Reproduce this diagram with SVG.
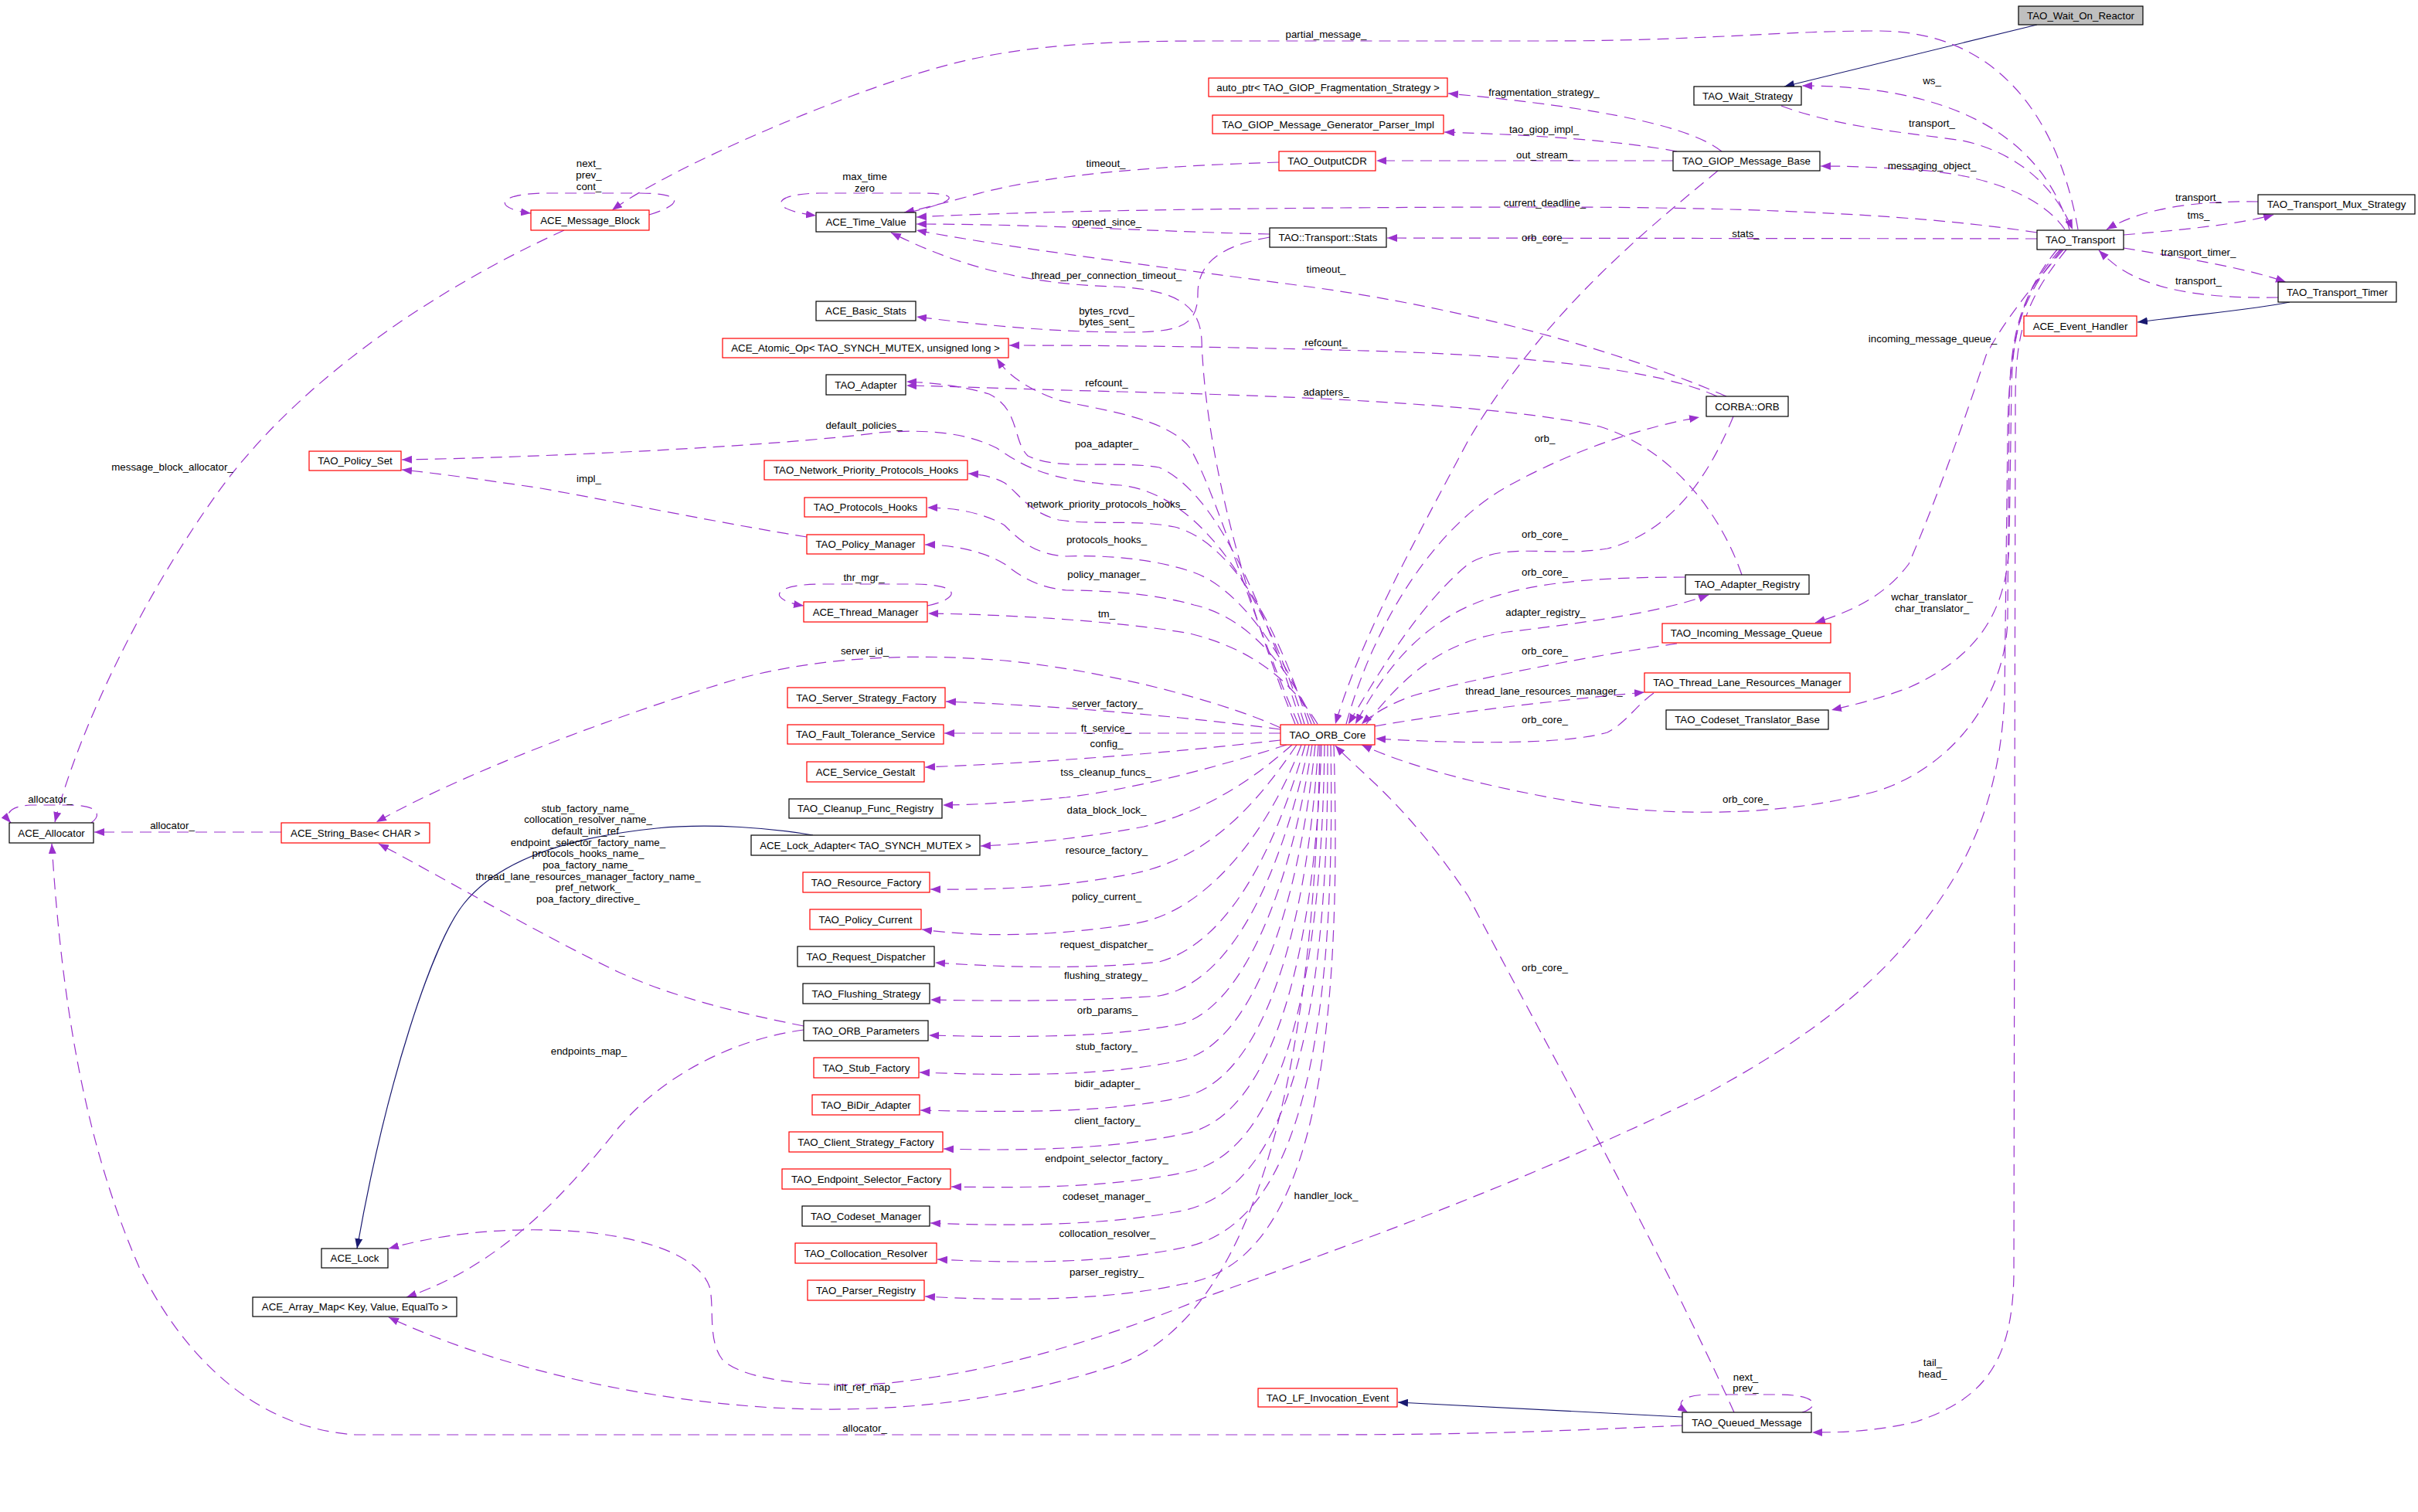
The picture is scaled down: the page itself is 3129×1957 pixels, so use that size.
<svg xmlns="http://www.w3.org/2000/svg" width="3129" height="1957" viewBox="0 0 3129 1957">
<style>
.node rect{fill:#fff;stroke-width:1.2}
.node .r{stroke:#ff0000}
.node .k{stroke:#000}
.node .g{stroke:#000;fill:#bfbfbf}
text{font-family:"Liberation Sans",Arial,sans-serif;font-size:13.3px;fill:#000;text-anchor:middle}
.e{fill:none;stroke:#9a32cd;stroke-width:1.2;stroke-dasharray:15 9;marker-end:url(#a)}
.i{fill:none;stroke:#191970;stroke-width:1.2;marker-end:url(#b)}
</style>
<defs>
<marker id="a" markerUnits="userSpaceOnUse" markerWidth="14" markerHeight="10" refX="13" refY="5" orient="auto"><path d="M0,0 L13,5 L0,10 z" fill="#9a32cd" stroke="none"/></marker>
<marker id="b" markerUnits="userSpaceOnUse" markerWidth="14" markerHeight="10" refX="13" refY="5" orient="auto"><path d="M0,0 L13,5 L0,10 z" fill="#191970" stroke="none"/></marker>
</defs>
<rect x="0" y="0" width="3129" height="1957" fill="#fff"/>
<g id="connectors">
<path class="i" d="M2636,32 L2309,112"/>
<path class="i" d="M1052,1081 C1000,1072 920,1065 850,1072 C720,1085 640,1120 600,1170 C560,1220 500,1400 462,1616"/>
<path class="i" d="M2963,391 C2920,400 2860,405 2766,417"/>
<path class="i" d="M2177,1834 C2000,1826 1900,1820 1809,1815"/>
<path class="e" d="M2689,297 C2665,160 2590,40 2430,40 C2300,40 2200,53 2000,53 L1560,53 C1330,53 1250,70 1100,125 C980,170 850,230 792,272"/>
<path class="e" d="M2678,297 C2650,200 2560,111 2332,111"/>
<path class="e" d="M2305,137 C2380,165 2470,172 2540,182 C2620,200 2662,250 2682,297"/>
<path class="e" d="M2672,297 C2640,250 2560,225 2480,220 C2420,216 2390,215 2356,215"/>
<path class="e" d="M2228,196 C2190,165 2080,140 1874,121"/>
<path class="e" d="M2170,196 C2100,183 2000,175 1869,171"/>
<path class="e" d="M2165,208 L1781,208"/>
<path class="e" d="M1655,210 C1500,215 1350,225 1250,255 C1220,263 1195,270 1170,275"/>
<path class="e" d="M1175,275 C1235,262 1250,250 1190,250 L1060,250 C995,251 995,272 1056,279"/>
<path class="e" d="M840,278 C880,266 892,250 825,250 L700,250 C640,252 640,270 687,276"/>
<path class="e" d="M2636,301 C2500,280 2300,268 2000,268 C1700,268 1350,272 1186,281"/>
<path class="e" d="M1643,303 C1500,300 1350,290 1186,290"/>
<path class="e" d="M1676,937 C1620,800 1560,600 1555,440 C1553,400 1530,375 1443,371 C1330,368 1240,345 1153,301"/>
<path class="e" d="M2234,513 C2100,455 1900,400 1700,372 C1500,345 1300,320 1186,298"/>
<path class="e" d="M1643,307 C1580,318 1550,340 1550,380 C1550,420 1530,430 1460,430 C1350,430 1250,418 1186,410"/>
<path class="e" d="M2222,513 C2150,480 2000,462 1800,455 C1600,449 1450,447 1306,447"/>
<path class="e" d="M1680,937 C1620,800 1575,640 1540,580 C1510,540 1420,530 1370,518 C1320,500 1300,480 1290,464"/>
<path class="e" d="M2254,744 C2225,660 2160,580 2070,552 C1950,525 1700,513 1450,507 C1300,503 1230,500 1173,499"/>
<path class="e" d="M1684,937 C1640,800 1580,640 1500,605 C1440,595 1370,610 1330,590 C1310,570 1320,530 1280,510 C1240,498 1200,495 1173,494"/>
<path class="e" d="M1688,937 C1640,780 1560,640 1450,628 C1350,622 1320,600 1290,580 C1250,560 1200,555 1137,560 C1000,578 700,592 520,595"/>
<path class="e" d="M1044,695 C950,680 800,650 700,632 C620,620 560,612 520,608"/>
<path class="e" d="M1693,937 C1650,800 1590,700 1520,682 C1470,672 1420,680 1370,673 C1330,662 1320,640 1300,625 C1285,617 1270,614 1253,613"/>
<path class="e" d="M1697,937 C1660,840 1600,760 1545,741 C1500,725 1440,718 1380,720 C1340,718 1320,700 1300,680 C1270,662 1230,657 1200,657"/>
<path class="e" d="M1701,937 C1670,870 1620,800 1545,783 C1500,770 1440,764 1380,764 C1340,760 1320,745 1300,730 C1270,712 1230,705 1197,705"/>
<path class="e" d="M1705,937 C1670,880 1620,840 1540,820 C1450,804 1300,795 1201,794"/>
<path class="e" d="M1200,784 C1240,776 1248,757 1185,756 L1060,756 C995,757 995,777 1040,784"/>
<path class="e" d="M1657,942 C1600,915 1450,870 1300,855 C1180,845 1060,850 950,880 C800,925 600,1000 487,1064"/>
<path class="e" d="M1657,944 C1550,930 1400,915 1224,908"/>
<path class="e" d="M1657,949 L1222,949"/>
<path class="e" d="M1657,958 C1550,970 1400,985 1197,993"/>
<path class="e" d="M1665,964 C1600,985 1480,1020 1380,1032 C1320,1038 1260,1042 1220,1042"/>
<path class="e" d="M1672,964 C1620,1010 1560,1050 1480,1070 C1400,1085 1320,1093 1269,1095"/>
<path class="e" d="M1678,964 C1620,1050 1560,1110 1470,1130 C1380,1148 1300,1152 1204,1151"/>
<path class="e" d="M1684,964 C1640,1080 1560,1180 1470,1195 C1380,1210 1280,1215 1193,1203"/>
<path class="e" d="M1689,964 C1650,1100 1590,1220 1500,1245 C1400,1255 1300,1252 1210,1246"/>
<path class="e" d="M1694,964 C1660,1120 1600,1270 1500,1289 C1400,1296 1300,1296 1204,1294"/>
<path class="e" d="M1698,964 C1670,1150 1610,1300 1530,1325 C1440,1343 1320,1343 1202,1340"/>
<path class="e" d="M1702,964 C1680,1180 1620,1350 1530,1372 C1440,1392 1320,1393 1190,1388"/>
<path class="e" d="M1706,964 C1690,1220 1630,1400 1530,1420 C1440,1440 1320,1440 1191,1437"/>
<path class="e" d="M1710,964 C1700,1260 1640,1450 1530,1468 C1440,1487 1330,1490 1221,1487"/>
<path class="e" d="M1714,964 C1710,1300 1650,1500 1530,1518 C1440,1536 1340,1538 1231,1536"/>
<path class="e" d="M1718,964 C1720,1340 1660,1540 1530,1567 C1440,1585 1320,1588 1204,1583"/>
<path class="e" d="M1722,964 C1730,1380 1670,1590 1530,1615 C1440,1634 1330,1636 1213,1630"/>
<path class="e" d="M1726,964 C1740,1420 1680,1640 1530,1662 C1440,1682 1320,1685 1197,1678"/>
<path class="e" d="M1708,964 C1700,1400 1620,1700 1450,1765 C1300,1815 1150,1830 1000,1822 C800,1810 620,1760 503,1705"/>
<path class="e" d="M1040,1333 C950,1345 860,1390 800,1460 C720,1560 640,1640 526,1679"/>
<path class="e" d="M1040,1328 C950,1310 870,1290 800,1258 C700,1210 580,1140 490,1092"/>
<path class="e" d="M364,1077 L122,1077"/>
<path class="e" d="M118,1065 C132,1055 128,1042 90,1042 L40,1042 C10,1043 6,1056 14,1065"/>
<path class="e" d="M730,298 C550,380 380,500 280,640 C180,780 100,950 71,1064"/>
<path class="e" d="M2177,1845 C2000,1853 1900,1857 1700,1857 L460,1857 C350,1850 250,1780 180,1640 C110,1480 80,1300 67,1092"/>
<path class="e" d="M2223,221 C2140,290 2000,400 1900,570 C1820,720 1760,830 1728,937"/>
<path class="e" d="M1742,937 C1780,800 1860,680 1950,630 C2040,580 2130,552 2199,540"/>
<path class="e" d="M2243,539 C2210,620 2160,690 2080,710 C2010,722 1950,700 1900,730 C1840,780 1790,860 1745,937"/>
<path class="e" d="M2181,747 C2050,747 1950,755 1880,795 C1820,830 1785,880 1754,937"/>
<path class="e" d="M1768,937 C1820,870 1870,830 1950,818 C2060,805 2150,792 2211,770"/>
<path class="e" d="M2170,833 C2050,850 1900,880 1830,900 C1800,910 1775,925 1762,937"/>
<path class="e" d="M1779,940 C1880,922 2000,908 2128,896"/>
<path class="e" d="M2140,897 C2115,915 2105,935 2080,948 C2020,965 1880,962 1780,956"/>
<path class="e" d="M2666,323 C2615,380 2602,430 2600,520 L2598,800 C2596,900 2530,990 2432,1023 C2300,1060 2150,1055 2050,1040 C1930,1020 1830,995 1762,964"/>
<path class="e" d="M2244,1828 C2150,1620 2000,1350 1900,1160 C1820,1040 1760,1000 1728,965"/>
<path class="e" d="M2636,309 L1795,308"/>
<path class="e" d="M2670,323 C2630,370 2590,420 2570,460 C2530,580 2500,660 2470,730 C2440,770 2400,790 2349,806"/>
<path class="e" d="M2668,323 C2620,380 2605,420 2603,500 L2600,700 C2598,790 2560,850 2470,890 C2430,905 2400,912 2370,919"/>
<path class="e" d="M2662,323 C2615,380 2600,440 2598,560 L2594,900 C2590,1000 2565,1080 2520,1150 C2450,1260 2350,1340 2200,1420 C1950,1540 1750,1610 1565,1677 C1450,1725 1300,1775 1150,1790 C1050,1798 960,1785 935,1760 C915,1735 925,1690 918,1665 C905,1630 850,1605 760,1595 C650,1585 560,1600 503,1616"/>
<path class="e" d="M2674,323 C2620,390 2608,430 2608,520 L2606,1650 C2604,1760 2570,1810 2480,1840 C2430,1852 2390,1854 2345,1854"/>
<path class="e" d="M2922,261 C2860,260 2780,265 2726,297"/>
<path class="e" d="M2748,304 C2820,298 2900,290 2942,278"/>
<path class="e" d="M2748,321 C2820,333 2900,345 2958,365"/>
<path class="e" d="M2948,385 C2870,386 2790,380 2740,345 C2732,339 2724,332 2716,324"/>
<path class="e" d="M2332,1828 C2356,1820 2352,1805 2300,1805 L2210,1805 C2172,1806 2168,1818 2184,1828"/>
</g>
<g id="edge-labels">
<text x="1716" y="49">partial_message_</text>
<text x="1998" y="124">fragmentation_strategy_</text>
<text x="1998" y="172">tao_giop_impl_</text>
<text x="1999" y="205">out_stream_</text>
<text x="2500" y="109">ws_</text>
<text x="2500" y="164">transport_</text>
<text x="2500" y="219">messaging_object_</text>
<text x="762" y="216">next_</text>
<text x="762" y="231">prev_</text>
<text x="762" y="246">cont_</text>
<text x="1119" y="233">max_time</text>
<text x="1119" y="248">zero</text>
<text x="1431" y="216">timeout_</text>
<text x="1999" y="267">current_deadline_</text>
<text x="1432" y="292">opened_since_</text>
<text x="1999" y="312">orb_core_</text>
<text x="2259" y="307">stats_</text>
<text x="2845" y="260">transport_</text>
<text x="2845" y="283">tms_</text>
<text x="2845" y="331">transport_timer_</text>
<text x="2845" y="368">transport_</text>
<text x="1716" y="353">timeout_</text>
<text x="1432" y="361">thread_per_connection_timeout_</text>
<text x="1432" y="407">bytes_rcvd_</text>
<text x="1432" y="421">bytes_sent_</text>
<text x="2501" y="443">incoming_message_queue_</text>
<text x="1716" y="448">refcount_</text>
<text x="1432" y="500">refcount_</text>
<text x="1716" y="512">adapters_</text>
<text x="1118" y="555">default_policies_</text>
<text x="1999" y="572">orb_</text>
<text x="1432" y="579">poa_adapter_</text>
<text x="223" y="609">message_block_allocator_</text>
<text x="762" y="624">impl_</text>
<text x="1432" y="657">network_priority_protocols_hooks_</text>
<text x="1999" y="696">orb_core_</text>
<text x="1432" y="703">protocols_hooks_</text>
<text x="1999" y="745">orb_core_</text>
<text x="1432" y="748">policy_manager_</text>
<text x="1118" y="752">thr_mgr_</text>
<text x="2500" y="777">wchar_translator_</text>
<text x="2500" y="792">char_translator_</text>
<text x="2000" y="797">adapter_registry_</text>
<text x="1432" y="799">tm_</text>
<text x="1999" y="847">orb_core_</text>
<text x="1119" y="847">server_id_</text>
<text x="1998" y="899">thread_lane_resources_manager_</text>
<text x="1433" y="915">server_factory_</text>
<text x="1999" y="936">orb_core_</text>
<text x="1431" y="947">ft_service_</text>
<text x="1432" y="967">config_</text>
<text x="1431" y="1004">tss_cleanup_funcs_</text>
<text x="65" y="1039">allocator_</text>
<text x="2259" y="1039">orb_core_</text>
<text x="761" y="1051">stub_factory_name_</text>
<text x="761" y="1065">collocation_resolver_name_</text>
<text x="761" y="1080">default_init_ref_</text>
<text x="761" y="1095">endpoint_selector_factory_name_</text>
<text x="761" y="1109">protocols_hooks_name_</text>
<text x="761" y="1124">poa_factory_name_</text>
<text x="761" y="1139">thread_lane_resources_manager_factory_name_</text>
<text x="761" y="1153">pref_network_</text>
<text x="761" y="1168">poa_factory_directive_</text>
<text x="1432" y="1053">data_block_lock_</text>
<text x="223" y="1073">allocator_</text>
<text x="1432" y="1105">resource_factory_</text>
<text x="1432" y="1165">policy_current_</text>
<text x="1432" y="1227">request_dispatcher_</text>
<text x="1999" y="1257">orb_core_</text>
<text x="1431" y="1267">flushing_strategy_</text>
<text x="1433" y="1312">orb_params_</text>
<text x="1432" y="1359">stub_factory_</text>
<text x="762" y="1365">endpoints_map_</text>
<text x="1433" y="1407">bidir_adapter_</text>
<text x="1433" y="1455">client_factory_</text>
<text x="1432" y="1504">endpoint_selector_factory_</text>
<text x="1716" y="1552">handler_lock_</text>
<text x="1432" y="1553">codeset_manager_</text>
<text x="1433" y="1601">collocation_resolver_</text>
<text x="1432" y="1651">parser_registry_</text>
<text x="2501" y="1768">tail_</text>
<text x="2501" y="1783">head_</text>
<text x="2259" y="1787">next_</text>
<text x="2259" y="1801">prev_</text>
<text x="1119" y="1800">init_ref_map_</text>
<text x="1119" y="1853">allocator_</text>
</g>
<g id="TAO_Wait_On_Reactor" class="node"><rect class="g" x="2612" y="8" width="161" height="24"/><text x="2692.5" y="24.7">TAO_Wait_On_Reactor</text></g>
<g id="TAO_Wait_Strategy" class="node"><rect class="k" x="2192" y="112" width="139" height="24"/><text x="2261.5" y="128.7">TAO_Wait_Strategy</text></g>
<g id="TAO_Transport" class="node"><rect class="k" x="2636" y="298" width="112" height="25"/><text x="2692" y="315.2">TAO_Transport</text></g>
<g id="TAO_GIOP_Message_Base" class="node"><rect class="k" x="2165" y="196" width="190" height="25"/><text x="2260" y="213.2">TAO_GIOP_Message_Base</text></g>
<g id="auto_ptr_Fragmentation" class="node"><rect class="r" x="1564" y="101" width="309" height="24"/><text x="1718.5" y="117.7">auto_ptr&lt; TAO_GIOP_Fragmentation_Strategy &gt;</text></g>
<g id="TAO_GIOP_Message_Generator_Parser_Impl" class="node"><rect class="r" x="1569" y="149" width="299" height="24"/><text x="1718.5" y="165.7">TAO_GIOP_Message_Generator_Parser_Impl</text></g>
<g id="TAO_OutputCDR" class="node"><rect class="r" x="1655" y="196" width="125" height="25"/><text x="1717.5" y="213.2">TAO_OutputCDR</text></g>
<g id="ACE_Message_Block" class="node"><rect class="r" x="687" y="272" width="153" height="26"/><text x="763.5" y="289.7">ACE_Message_Block</text></g>
<g id="ACE_Time_Value" class="node"><rect class="k" x="1056" y="275" width="129" height="25"/><text x="1120.5" y="292.2">ACE_Time_Value</text></g>
<g id="TAO_Transport_Stats" class="node"><rect class="k" x="1643" y="295" width="151" height="25"/><text x="1718.5" y="312.2">TAO::Transport::Stats</text></g>
<g id="ACE_Basic_Stats" class="node"><rect class="k" x="1056" y="390" width="129" height="25"/><text x="1120.5" y="407.2">ACE_Basic_Stats</text></g>
<g id="ACE_Atomic_Op" class="node"><rect class="r" x="935" y="438" width="370" height="25"/><text x="1120" y="455.2">ACE_Atomic_Op&lt; TAO_SYNCH_MUTEX, unsigned long &gt;</text></g>
<g id="TAO_Adapter" class="node"><rect class="k" x="1069" y="485" width="103" height="26"/><text x="1120.5" y="502.7">TAO_Adapter</text></g>
<g id="TAO_Policy_Set" class="node"><rect class="r" x="400" y="584" width="119" height="25"/><text x="459.5" y="601.2">TAO_Policy_Set</text></g>
<g id="TAO_Network_Priority_Protocols_Hooks" class="node"><rect class="r" x="989" y="596" width="263" height="25"/><text x="1120.5" y="613.2">TAO_Network_Priority_Protocols_Hooks</text></g>
<g id="TAO_Protocols_Hooks" class="node"><rect class="r" x="1041" y="644" width="158" height="25"/><text x="1120" y="661.2">TAO_Protocols_Hooks</text></g>
<g id="TAO_Policy_Manager" class="node"><rect class="r" x="1044" y="692" width="152" height="25"/><text x="1120" y="709.2">TAO_Policy_Manager</text></g>
<g id="ACE_Thread_Manager" class="node"><rect class="r" x="1040" y="779" width="160" height="26"/><text x="1120" y="796.7">ACE_Thread_Manager</text></g>
<g id="TAO_Server_Strategy_Factory" class="node"><rect class="r" x="1019" y="890" width="204" height="26"/><text x="1121" y="907.7">TAO_Server_Strategy_Factory</text></g>
<g id="TAO_Fault_Tolerance_Service" class="node"><rect class="r" x="1019" y="938" width="202" height="25"/><text x="1120" y="955.2">TAO_Fault_Tolerance_Service</text></g>
<g id="ACE_Service_Gestalt" class="node"><rect class="r" x="1044" y="986" width="152" height="26"/><text x="1120" y="1003.7">ACE_Service_Gestalt</text></g>
<g id="TAO_Cleanup_Func_Registry" class="node"><rect class="k" x="1021" y="1034" width="198" height="25"/><text x="1120" y="1051.2">TAO_Cleanup_Func_Registry</text></g>
<g id="ACE_Lock_Adapter" class="node"><rect class="k" x="972" y="1081" width="296" height="26"/><text x="1120" y="1098.7">ACE_Lock_Adapter&lt; TAO_SYNCH_MUTEX &gt;</text></g>
<g id="TAO_Resource_Factory" class="node"><rect class="r" x="1039" y="1129" width="164" height="26"/><text x="1121" y="1146.7">TAO_Resource_Factory</text></g>
<g id="TAO_Policy_Current" class="node"><rect class="r" x="1048" y="1177" width="144" height="26"/><text x="1120" y="1194.7">TAO_Policy_Current</text></g>
<g id="TAO_Request_Dispatcher" class="node"><rect class="k" x="1032" y="1225" width="177" height="26"/><text x="1120.5" y="1242.7">TAO_Request_Dispatcher</text></g>
<g id="TAO_Flushing_Strategy" class="node"><rect class="k" x="1039" y="1273" width="164" height="26"/><text x="1121" y="1290.7">TAO_Flushing_Strategy</text></g>
<g id="TAO_ORB_Parameters" class="node"><rect class="k" x="1040" y="1321" width="161" height="26"/><text x="1120.5" y="1338.7">TAO_ORB_Parameters</text></g>
<g id="TAO_Stub_Factory" class="node"><rect class="r" x="1053" y="1369" width="136" height="26"/><text x="1121" y="1386.7">TAO_Stub_Factory</text></g>
<g id="TAO_BiDir_Adapter" class="node"><rect class="r" x="1051" y="1417" width="139" height="26"/><text x="1120.5" y="1434.7">TAO_BiDir_Adapter</text></g>
<g id="TAO_Client_Strategy_Factory" class="node"><rect class="r" x="1021" y="1465" width="199" height="26"/><text x="1120.5" y="1482.7">TAO_Client_Strategy_Factory</text></g>
<g id="TAO_Endpoint_Selector_Factory" class="node"><rect class="r" x="1012" y="1513" width="218" height="26"/><text x="1121" y="1530.7">TAO_Endpoint_Selector_Factory</text></g>
<g id="TAO_Codeset_Manager" class="node"><rect class="k" x="1038" y="1561" width="165" height="26"/><text x="1120.5" y="1578.7">TAO_Codeset_Manager</text></g>
<g id="TAO_Collocation_Resolver" class="node"><rect class="r" x="1029" y="1609" width="183" height="26"/><text x="1120.5" y="1626.7">TAO_Collocation_Resolver</text></g>
<g id="TAO_Parser_Registry" class="node"><rect class="r" x="1045" y="1657" width="151" height="26"/><text x="1120.5" y="1674.7">TAO_Parser_Registry</text></g>
<g id="ACE_Lock" class="node"><rect class="k" x="416" y="1616" width="86" height="25"/><text x="459" y="1633.2">ACE_Lock</text></g>
<g id="ACE_Array_Map" class="node"><rect class="k" x="327" y="1679" width="264" height="25"/><text x="459" y="1696.2">ACE_Array_Map&lt; Key, Value, EqualTo &gt;</text></g>
<g id="ACE_Allocator" class="node"><rect class="k" x="12" y="1065" width="109" height="26"/><text x="66.5" y="1082.7">ACE_Allocator</text></g>
<g id="ACE_String_Base" class="node"><rect class="r" x="364" y="1065" width="192" height="26"/><text x="460" y="1082.7">ACE_String_Base&lt; CHAR &gt;</text></g>
<g id="TAO_ORB_Core" class="node"><rect class="r" x="1657" y="938" width="122" height="26"/><text x="1718" y="955.7">TAO_ORB_Core</text></g>
<g id="CORBA_ORB" class="node"><rect class="k" x="2208" y="513" width="106" height="26"/><text x="2261" y="530.7">CORBA::ORB</text></g>
<g id="TAO_Adapter_Registry" class="node"><rect class="k" x="2181" y="744" width="160" height="25"/><text x="2261" y="761.2">TAO_Adapter_Registry</text></g>
<g id="TAO_Incoming_Message_Queue" class="node"><rect class="r" x="2151" y="807" width="218" height="25"/><text x="2260" y="824.2">TAO_Incoming_Message_Queue</text></g>
<g id="TAO_Thread_Lane_Resources_Manager" class="node"><rect class="r" x="2128" y="871" width="266" height="25"/><text x="2261" y="888.2">TAO_Thread_Lane_Resources_Manager</text></g>
<g id="TAO_Codeset_Translator_Base" class="node"><rect class="k" x="2156" y="919" width="210" height="25"/><text x="2261" y="936.2">TAO_Codeset_Translator_Base</text></g>
<g id="TAO_Transport_Mux_Strategy" class="node"><rect class="k" x="2922" y="252" width="203" height="25"/><text x="3023.5" y="269.2">TAO_Transport_Mux_Strategy</text></g>
<g id="TAO_Transport_Timer" class="node"><rect class="k" x="2948" y="365" width="153" height="26"/><text x="3024.5" y="382.7">TAO_Transport_Timer</text></g>
<g id="ACE_Event_Handler" class="node"><rect class="r" x="2619" y="409" width="146" height="26"/><text x="2692" y="426.7">ACE_Event_Handler</text></g>
<g id="TAO_LF_Invocation_Event" class="node"><rect class="r" x="1628" y="1797" width="180" height="24"/><text x="1718" y="1813.7">TAO_LF_Invocation_Event</text></g>
<g id="TAO_Queued_Message" class="node"><rect class="k" x="2177" y="1828" width="167" height="26"/><text x="2260.5" y="1845.7">TAO_Queued_Message</text></g>
</svg>
